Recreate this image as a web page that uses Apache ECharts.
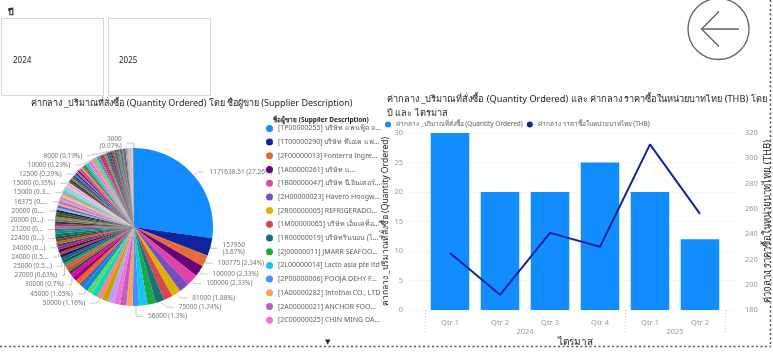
<!DOCTYPE html>
<html><head><meta charset="utf-8">
<script src="https://cdn.jsdelivr.net/npm/echarts@6/dist/echarts.min.js"></script>
<style>html,body{margin:0;padding:0;background:#fff}#c{width:773px;height:357px}</style>
</head><body><div id="c"></div>
<script>
// ---------- DATA ----------
const yearSlicer = ['2024', '2025'];

const legendSuppliers = [
  '[1P00000255] บริษัท แพนฟู้ด จ...',
  '[1T00000290] บริษัท ทีเอเค แฟ...',
  '[2F00000013] Fonterra Ingredi...',
  '[1A00000261] บริษัท แอสโทร โ...',
  '[1B00000047] บริษัท บี.อินเตอร์...',
  '[2H00000023] Havero Hoogw...',
  '[2R00000005] REFRIGERADOS...',
  '[1M00000065] บริษัท เอ็มเคท็อ...',
  '[1R00000019] บริษัทรินบอน (ไ...',
  '[2J00000011] JMARR SEAFOO...',
  '[2L00000014] Lacto asia pte ltd',
  '[2P00000006] POOJA DEHY F...',
  '[1A00000282] Intothai CO., LTD',
  '[2A00000021] ANCHOR FOOD...',
  '[2C00000025] CHIN MING DA ...'
];

const quantityValues = [
  1171638.51, 157950, 100775, 100000, 100000, 92000, 81000, 78000, 75000, 75000, 73000, 56000,
  56000, 56000, 55000, 54000, 52000, 50000, 50000, 49000, 45000, 44000, 42000, 40000,
  30000, 30000, 30000, 28000, 27000, 27000, 25000, 25000, 24500, 24000, 24000, 24000, 24000,
  23500, 23000, 22400, 22000, 22000, 21600, 21200, 21000, 21000, 20500, 20000,
  20000, 20000, 20000, 20000, 20000, 20000, 20000, 20000, 18000, 16375,
  16000, 16000, 16000, 15500, 15000, 15000, 15000, 15000, 15000, 15000, 15000, 15000, 15000,
  15000, 15000, 14000, 14000, 13500, 13000, 13000, 12500, 12500, 12500,
  12000, 12000, 12000, 12000, 11500, 11000, 11000, 10500, 10000, 10000, 10000, 10000,
  10000, 10000, 10000, 10000, 10000, 10000, 9500, 9000, 9000, 9000, 9000, 8500, 8500, 8500,
  8000, 8000, 8000, 8000, 8000, 8000, 8000, 8000, 7500, 7000, 7000, 6500, 6000, 6000, 6000, 5500,
  5000, 5000, 5000, 5000, 5000, 4500, 4461.49, 4000, 4000, 3500, 3500, 3000, 3000, 3000
];

// which slices carry a data label, and how Power BI shortened it
const labelFull   = [0, 2, 3, 4, 6, 8, 11, 17, 20, 24, 28, 63, 70, 80, 92, 112];
const labelWrap   = [1, 136];
const labelTrunc3 = [30, 33, 53, 57];
const labelTrunc1 = [36, 39, 43, 48];

const quarters = ['Qtr 1', 'Qtr 2', 'Qtr 3', 'Qtr 4', 'Qtr 1', 'Qtr 2'];
const years = ['2024', '2025'];
const quartersPerYear = [4, 2];
const qtyMedian = [30, 20, 20, 25, 20, 12];
const priceMedian = [225, 192, 241, 230, 311, 256];

const barName = 'ค่ากลาง _ปริมาณที่สั่งซื้อ (Quantity Ordered)';
const lineName = 'ค่ากลาง ราคาซื้อในหน่วยบาทไทย (THB)';

// ---------- STYLE ----------
const FONT = "'Noto Sans', 'DejaVu Sans', sans-serif";
const palette = ['#118DFF','#12239E','#E66C37','#6B007B','#E044A7','#744EC2','#D9B300','#D64550',
  '#197278','#1AAB40','#15C6F4','#4092FF','#FFA058','#BE5DC9','#F472D0','#B5A1FF','#C4A200',
  '#FF8080','#00DBBC','#5BD667','#0091D5','#4668C5','#FF6300','#99008A','#EC008C','#533285',
  '#99700A','#FF4141','#1F9A85','#255A26','#0B5FAD','#0D1A70','#A34B26','#4A0055','#9C2F74',
  '#51368A','#998000','#962F38','#114F54','#127A2C','#0E8BAB','#2D66B3','#B37040','#85418D',
  '#3A3A3A','#6E6E6E','#8A8A4A','#2F4F2F','#5C4033','#1C1C3C','#70BBFF','#5B68C1','#F0A787',
  '#A666B0','#EC8FCA','#AC95DA','#E8D166','#E68F96','#75AAAE','#76CD8C','#73DDF8','#8CBEFF',
  '#FFC69B','#D89EDF','#F8AAE3','#4B4B2B','#2B2B2B','#7A7A7A','#546B2E','#3D2B56'];

const total = quantityValues.reduce((a, b) => a + b, 0);
function pctStr(v) { return String(Math.round(v / total * 10000) / 100); }
function labelText(i) {
  const v = quantityValues[i], p = pctStr(v);
  if (labelWrap.includes(i)) return v + '\n(' + p + '%)';
  if (labelTrunc3.includes(i)) return v + ' (' + p.slice(0, 3) + '...)';
  if (labelTrunc1.includes(i)) return v + ' (' + p.slice(0, 1) + '...)';
  return v + ' (' + p + '%)';
}
const labeled = labelFull.concat(labelWrap, labelTrunc3, labelTrunc1);

const pieData = quantityValues.map((v, i) => ({
  name: i < legendSuppliers.length ? legendSuppliers[i] : 'ผู้ขาย #' + (i + 1),
  value: v,
  itemStyle: { color: palette[i % palette.length] },
  label: { show: labeled.includes(i) },
  labelLine: { show: labeled.includes(i) }
}));

// year group boundaries / centers derived from quartersPerYear
const yearBounds = [0];
quartersPerYear.forEach(n => yearBounds.push(yearBounds[yearBounds.length - 1] + n));
const yearCenters = quartersPerYear.map((n, k) => yearBounds[k] + n / 2);

const chart = echarts.init(document.getElementById('c'));
const option = {
  animation: false,
  textStyle: { fontFamily: FONT },
  title: [
    { text: 'ปี', left: 3, top: 3, textStyle: { fontSize: 9, fontWeight: 'bold', color: '#252423', fontFamily: FONT } },
    { text: yearSlicer[0], left: 8, top: 52, textStyle: { fontSize: 8, fontWeight: 'normal', color: '#252423', fontFamily: FONT } },
    { text: yearSlicer[1], left: 114, top: 52, textStyle: { fontSize: 8, fontWeight: 'normal', color: '#252423', fontFamily: FONT } },
    { text: 'ค่ากลาง _ปริมาณที่สั่งซื้อ (Quantity Ordered) โดย ชื่อผู้ขาย (Supplier Description)', left: 31, top: 99, padding: 0,
      textStyle: { fontSize: 9, fontWeight: 'normal', color: '#252423', fontFamily: FONT } },
    { text: 'ชื่อผู้ขาย (Supplier Description)', left: 268, top: 112,
      textStyle: { fontSize: 6.5, fontWeight: 'bold', color: '#252423', fontFamily: FONT } },
    { text: 'ค่ากลาง _ปริมาณที่สั่งซื้อ (Quantity Ordered) และ ค่ากลาง ราคาซื้อในหน่วยบาทไทย (THB) โดย\nปี และ ไตรมาส',
      left: 387, top: 92, padding: 0, textStyle: { fontSize: 9.2, fontWeight: 'normal', color: '#252423', lineHeight: 14, fontFamily: FONT } },
    { text: '▼', left: 320, top: 333, textStyle: { fontSize: 7, fontWeight: 'normal', color: '#252423' } }
  ],
  legend: [
    { data: legendSuppliers, orient: 'vertical', left: 266, top: 124, icon: 'circle', itemWidth: 7, itemHeight: 7,
      itemGap: 4.9, padding: 0, selectedMode: false,
      textStyle: { fontSize: 7, color: '#605E5C', lineHeight: 8.8, width: 104, overflow: 'truncate', fontFamily: FONT } },
    { data: [barName, lineName], left: 385, top: 121, icon: 'circle', itemWidth: 6, itemHeight: 6, itemGap: 4,
      padding: 0, selectedMode: false, textStyle: { fontSize: 6.5, color: '#605E5C', fontFamily: FONT } }
  ],
  grid: [
    { left: 410, right: 33, top: 133, bottom: 47 },
    { left: 425, right: 48, top: 133, bottom: 47 }
  ],
  xAxis: [
    { gridIndex: 0, type: 'value', show: false, min: 0, max: 1 },
    { gridIndex: 1, type: 'category', data: quarters, axisLine: { show: false }, axisTick: { show: false },
      axisLabel: { fontSize: 7.5, color: '#999', margin: 9, fontFamily: FONT } },
    { gridIndex: 1, type: 'value', position: 'bottom', min: 0, max: yearBounds[yearBounds.length - 1],
      axisLine: { show: false }, splitLine: { show: false },
      axisTick: { show: true, customValues: yearBounds, length: 22, lineStyle: { color: '#ccc', type: [1, 2] } },
      axisLabel: { customValues: yearCenters, margin: 18, fontSize: 7.5, color: '#999', fontFamily: FONT,
        formatter: v => { const k = yearCenters.indexOf(v); return k >= 0 ? years[k] : ''; } },
      name: 'ไตรมาส', nameLocation: 'middle', nameGap: 27,
      nameTextStyle: { fontSize: 10, color: '#252423', fontFamily: FONT } }
  ],
  yAxis: [
    { gridIndex: 0, type: 'value', min: 0, max: 30, interval: 5, position: 'left',
      axisLine: { show: false }, axisTick: { show: false },
      axisLabel: { fontSize: 7.5, color: '#999', margin: 7, fontFamily: FONT },
      splitLine: { lineStyle: { color: '#ddd', type: [1, 3] } },
      name: barName, nameLocation: 'middle', nameRotate: 90, nameGap: 13,
      nameTextStyle: { fontSize: 8.6, color: '#252423', fontFamily: FONT } },
    { gridIndex: 0, type: 'value', min: 180, max: 320, interval: 20, position: 'right',
      axisLine: { show: false }, axisTick: { show: false }, splitLine: { show: false },
      axisLabel: { fontSize: 7.5, color: '#999', margin: 7, fontFamily: FONT },
      name: lineName, nameLocation: 'middle', nameRotate: 90, nameGap: 24,
      nameTextStyle: { fontSize: 9.5, color: '#252423', fontFamily: FONT } },
    { gridIndex: 1, type: 'value', min: 0, max: 30, show: false },
    { gridIndex: 1, type: 'value', min: 180, max: 320, show: false }
  ],
  series: [
    { type: 'pie', center: [134, 227], radius: 79, startAngle: 90, clockwise: true,
      avoidLabelOverlap: true, data: pieData,
      itemStyle: { borderWidth: 0 },
      label: { formatter: p => labelText(p.dataIndex), fontSize: 6.5, color: '#777', lineHeight: 7.2, fontFamily: FONT },
      labelLine: { length: 5, length2: 7, lineStyle: { color: '#c8c8c8', width: 1 } },
      emphasis: { disabled: true } },
    { type: 'bar', name: barName, xAxisIndex: 1, yAxisIndex: 2, data: qtyMedian, barWidth: '77%',
      itemStyle: { color: '#118DFF' } },
    { type: 'line', name: lineName, xAxisIndex: 1, yAxisIndex: 3, data: priceMedian, showSymbol: false,
      lineStyle: { color: '#12239E', width: 2 }, itemStyle: { color: '#12239E' } }
  ],
  graphic: [
    { type: 'rect', shape: { x: 1.5, y: 18.5, width: 102, height: 77 }, style: { fill: '#fff', stroke: '#d6d6d6', lineWidth: 1 }, z: -1 },
    { type: 'rect', shape: { x: 108.5, y: 18.5, width: 102, height: 77 }, style: { fill: '#fff', stroke: '#d6d6d6', lineWidth: 1 }, z: -1 },
    { type: 'circle', shape: { cx: 718.5, cy: 29, r: 30.5 }, style: { fill: 'none', stroke: '#5f5f5f', lineWidth: 1.3 } },
    { type: 'line', shape: { x1: 701.5, y1: 29, x2: 739, y2: 29 }, style: { stroke: '#5f5f5f', lineWidth: 1.3 } },
    { type: 'polyline', shape: { points: [[719, 11.5], [701.5, 29], [719, 46.5]] }, style: { fill: 'none', stroke: '#5f5f5f', lineWidth: 1.3 } },
    { type: 'line', shape: { x1: 770.5, y1: 0, x2: 770.5, y2: 346 }, style: { stroke: '#555', lineWidth: 1.5, lineDash: [2, 2.5] } },
    { type: 'line', shape: { x1: 0, y1: 346.5, x2: 771, y2: 346.5 }, style: { stroke: '#555', lineWidth: 1.5, lineDash: [2, 2.5] } }
  ]
};
chart.setOption(option);
</script>
</body></html>
